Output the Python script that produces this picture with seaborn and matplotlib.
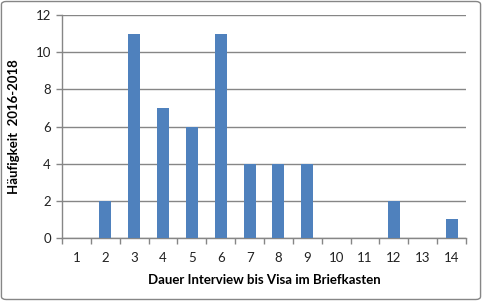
import matplotlib
matplotlib.use("Agg")
import matplotlib.pyplot as plt
import seaborn as sns
import pandas as pd
import numpy as np
from matplotlib.patches import FancyBboxPatch

categories = ["1", "2", "3", "4", "5", "6", "7", "8", "9", "10", "11", "12", "13", "14"]
values = [0, 2, 11, 7, 6, 11, 4, 4, 4, 0, 0, 2, 0, 1]
y_ticks = [0, 2, 4, 6, 8, 10, 12]

df = pd.DataFrame({"Dauer": categories, "Anzahl": values})

sns.set_theme(style="white")
plt.rcParams['font.family'] = ['Lato', 'DejaVu Sans']

fig = plt.figure(figsize=(4.82, 3.01), dpi=100)
ax = fig.add_axes([62/482, 1-238/301, (466-62)/482, (238-15)/301])

sns.barplot(data=df, x="Dauer", y="Anzahl", order=categories, color="#4F81BD",
            saturation=1, width=0.42, linewidth=0, ax=ax, zorder=3)

ax.set_ylim(0, 12)
ax.set_xlim(-0.5, len(categories) - 0.5)
ax.set_yticks(y_ticks)
ax.set_yticklabels([str(t) for t in y_ticks], fontsize=9.5, color="#222222")
ax.set_xticks(range(len(categories)))
ax.set_xticklabels(categories, fontsize=9.5, color="#222222")
ax.tick_params(axis="x", which="major", length=0, pad=10)
ax.set_xticks(np.arange(-0.5, len(categories)), minor=True)
ax.tick_params(axis="x", which="minor", length=4, color="#868686", width=1, direction="out")
ax.tick_params(axis="y", which="major", length=4, color="#868686", width=1, direction="out", pad=4)
ax.xaxis.set_ticks_position("bottom")
ax.yaxis.set_ticks_position("left")

ax.yaxis.grid(True, color="#868686", linewidth=1, zorder=0)
ax.set_axisbelow(True)
for s in ["top", "right"]:
    ax.spines[s].set_visible(False)
for s in ["left", "bottom"]:
    ax.spines[s].set_color("#868686")
    ax.spines[s].set_linewidth(1)

ax.set_xlabel("Dauer Interview bis Visa im Briefkasten", fontsize=9.5, fontweight="bold", labelpad=7, color="black")
ax.set_ylabel("Häufigkeit  2016-2018", fontsize=9.5, fontweight="bold", labelpad=11, color="black")

border = FancyBboxPatch((0.003, 0.005), 0.994, 0.99, boxstyle="round,pad=0,rounding_size=0.01",
                        transform=fig.transFigure, fill=False, edgecolor="#868686", linewidth=1)
fig.patches.append(border)

fig.savefig("out.png", dpi=100)
